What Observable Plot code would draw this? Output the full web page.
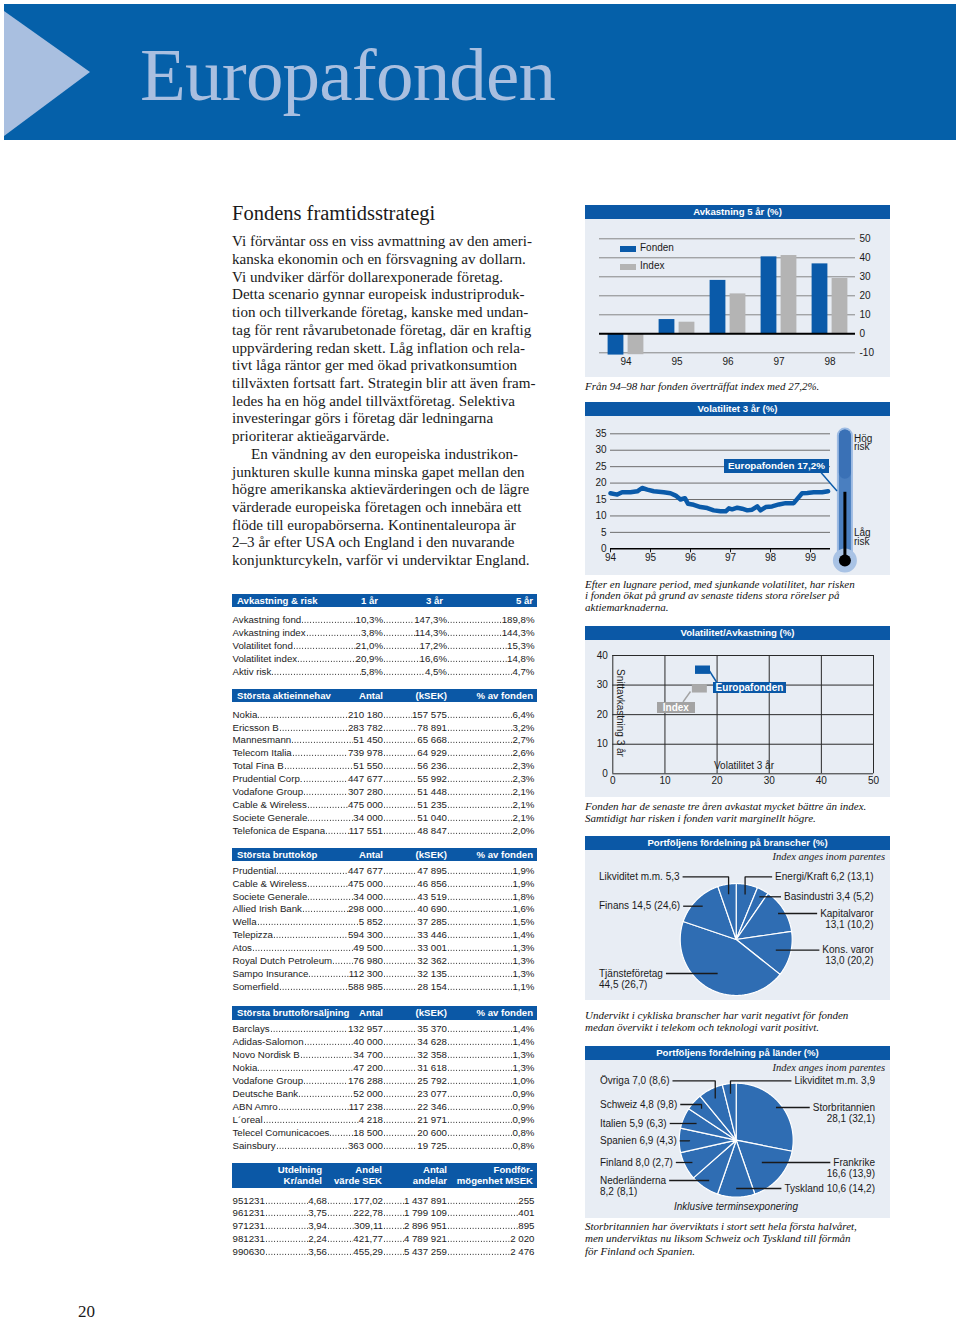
<!DOCTYPE html>
<html><head><meta charset="utf-8">
<script src="https://cdn.jsdelivr.net/npm/d3@7"></script>
<script src="https://cdn.jsdelivr.net/npm/@observablehq/plot@0.6"></script>
<style>
html,body{margin:0;padding:0;}
body{width:960px;height:1322px;position:relative;overflow:hidden;background:#fff;font-family:"Liberation Sans",Arial,sans-serif;color:#1a1a1a;}
.row{position:absolute;display:flex;white-space:nowrap;font-size:9.7px;height:13px;line-height:13px;color:#222;}
.seg{display:flex;flex:none;height:13px;}
.fill{flex:1 1 0;min-width:0;height:13px;
  background-image:radial-gradient(circle at 1.35px 9.3px, #3a3a3a 0.55px, rgba(0,0,0,0) 0.85px);
  background-size:2.75px 13px;background-repeat:repeat-x;}
.cap{position:absolute;font-family:"Liberation Serif",serif;font-style:italic;font-size:11px;line-height:12px;white-space:nowrap;color:#111;}
.bar{position:absolute;background:#0b58a6;color:#fff;font-weight:bold;font-size:9.6px;white-space:nowrap;}
</style></head><body>
<script>
// ================= DATA =================
const pageTitle = "Europafonden";
const sectionTitle = "Fondens framtidsstrategi";
const bodyLines = [
 "Vi förväntar oss en viss avmattning av den ameri-",
 "kanska ekonomin och en försvagning av dollarn.",
 "Vi undviker därför dollarexponerade företag.",
 "Detta scenario gynnar europeisk industriproduk-",
 "tion och tillverkande företag, kanske med undan-",
 "tag för rent råvarubetonade företag, där en kraftig",
 "uppvärdering redan skett. Låg inflation och rela-",
 "tivt låga räntor ger med ökad privatkonsumtion",
 "tillväxten fortsatt fart. Strategin blir att även fram-",
 "ledes ha en hög andel tillväxtföretag. Selektiva",
 "investeringar görs i företag där ledningarna",
 "prioriterar aktieägarvärde.",
 "En vändning av den europeiska industrikon-",
 "junkturen skulle kunna minska gapet mellan den",
 "högre amerikanska aktievärderingen och de lägre",
 "värderade europeiska företagen och innebära ett",
 "flöde till europabörserna. Kontinentaleuropa  är",
 "2–3 år efter USA och England i den nuvarande",
 "konjunkturcykeln, varför vi underviktar England."
];

const riskHead = ["Avkastning & risk", "1 år", "3 år", "5 år"];
const riskRows = [
 ["Avkastning fond", "10,3%", "147,3%", "189,8%"],
 ["Avkastning index ", "3,8%", "114,3%", "144,3%"],
 ["Volatilitet fond ", "21,0%", "17,2%", "15,3%"],
 ["Volatilitet index ", "20,9%", "16,6%", "14,8%"],
 ["Aktiv risk", "5,8%", "4,5%", "4,7%"]
];
const holdHead = ["Största aktieinnehav", "Antal", "(kSEK)", "% av fonden"];
const holdRows = [
 ["Nokia ", "210 180", "157 575", "6,4%"],
 ["Ericsson B ", "283 782", "78 891", "3,2%"],
 ["Mannesmann", "51 450", "65 668", "2,7%"],
 ["Telecom Italia", "739 978", "64 929", "2,6%"],
 ["Total Fina B", "51 550", "56 236", "2,3%"],
 ["Prudential Corp.", "447 677", "55 992", "2,3%"],
 ["Vodafone Group ", "307 280", "51 448", "2,1%"],
 ["Cable & Wireless", "475 000", "51 235", "2,1%"],
 ["Societe Generale", "34 000", "51 040", "2,1%"],
 ["Telefonica de Espana ", "117 551", "48 847", "2,0%"]
];
const buyHead = ["Största bruttoköp", "Antal", "(kSEK)", "% av fonden"];
const buyRows = [
 ["Prudential ", "447 677", "47 895", "1,9%"],
 ["Cable & Wireless", "475 000", "46 856", "1,9%"],
 ["Societe Generale", "34 000", "43 519", "1,8%"],
 ["Allied Irish Bank", "298 000", "40 690", "1,6%"],
 ["Wella", "5 852", "37 285", "1,5%"],
 ["Telepizza", "594 300", "33 446", "1,4%"],
 ["Atos ", "49 500", "33 001", "1,3%"],
 ["Royal Dutch Petroleum", "76 980", "32 362", "1,3%"],
 ["Sampo Insurance", "112 300", "32 135", "1,3%"],
 ["Somerfield ", "588 985", "28 154", "1,1%"]
];
const sellHead = ["Största bruttoförsäljning", "Antal", "(kSEK)", "% av fonden"];
const sellRows = [
 ["Barclays ", "132 957", "35 370", "1,4%"],
 ["Adidas-Salomon ", "40 000", "34 628", "1,4%"],
 ["Novo Nordisk B", "34 700", "32 358", "1,3%"],
 ["Nokia ", "47 200", "31 618", "1,3%"],
 ["Vodafone Group ", "176 288", "25 792", "1,0%"],
 ["Deutsche Bank", "52 000", "23 077", "0,9%"],
 ["ABN Amro ", "117 238", "22 346", "0,9%"],
 ["L´oreal ", "4 218", "21 971", "0,9%"],
 ["Telecel Comunicacoes", "18 500", "20 600", "0,8%"],
 ["Sainsbury", "363 000", "19 725", "0,8%"]
];
const fundHead = ["", "Utdelning<br>Kr/andel", "Andel<br>värde SEK", "Antal<br>andelar", "Fondför-<br>mögenhet MSEK"];
const fundRows = [
 ["951231 ", "4,68", "177,02", "1 437 891", "255"],
 ["961231 ", "3,75", "222,78", "1 799 109", "401"],
 ["971231 ", "3,94", "309,11", "2 896 951", "895"],
 ["981231 ", "2,24", "421,77", "4 789 921", "2 020"],
 ["990630 ", "3,56", "455,29", "5 437 259", "2 476"]
];

// Chart 1: Avkastning 5 år
const retTitle = "Avkastning 5 år (%)";
const retYears = ["94", "95", "96", "97", "98"];
const retFonden = [-11.2, 7.5, 28.1, 40.5, 36.8];
const retIndex = [-11.0, 6.1, 21.0, 41.2, 29.1];
const retTicks = [-10, 0, 10, 20, 30, 40, 50];
const retSeries = ["Fonden", "Index"];
const retCaption = ["Från 94–98 har fonden överträffat index med 27,2%."];

// Chart 2: Volatilitet 3 år
const volTitle = "Volatilitet 3 år (%)";
const volT = [94.00, 94.17, 94.29, 94.50, 94.67, 94.79, 94.92, 95.08, 95.33, 95.50, 95.63, 95.75, 95.86, 95.94,
  96.08, 96.25, 96.42, 96.58, 96.75, 96.88, 96.96, 97.04, 97.17, 97.29, 97.42, 97.54, 97.67, 97.75, 97.88,
  98.04, 98.21, 98.38, 98.58, 98.67, 98.79, 98.92, 99.08, 99.29, 99.44];
const volV = [16.9, 16.5, 17.2, 17.2, 17.5, 18.5, 18.0, 17.5, 17.2, 16.9, 16.2, 15.0, 15.4, 13.7,
  13.4, 12.7, 12.4, 11.7, 11.4, 11.4, 12.3, 12.0, 12.5, 12.2, 11.7, 11.9, 12.9, 11.7, 12.7,
  12.9, 13.5, 13.9, 13.9, 15.2, 16.9, 17.0, 17.2, 17.2, 17.5];
const volYTicks = [0, 5, 10, 15, 20, 25, 30, 35];
const volXTicks = [94, 95, 96, 97, 98, 99];
const fundVolNow = 17.2;
const volLabel = "Europafonden 17,2%";
const riskHigh = "Hög<br>risk", riskLow = "Låg<br>risk";
const volCaption = ["Efter en lugnare period, med sjunkande volatilitet, har risken",
  "i fonden ökat på grund av senaste tidens stora rörelser på", "aktiemarknaderna."];

// Chart 3: Volatilitet/Avkastning
const scTitle = "Volatilitet/Avkastning (%)";
const scNames = ["Index", "Europafonden"];
const scVol = [16.6, 17.2];
const scRet = [28.9, 35.2];
const scXTicks = [0, 10, 20, 30, 40, 50];
const scYTicks = [0, 10, 20, 30, 40];
const scYLabel = "Snittavkastning 3 år", scXLabel = "Volatilitet 3 år";
const scCaption = ["Fonden har de senaste tre åren avkastat mycket bättre än index.",
  "Samtidigt har risken i fonden varit marginellt högre."];

// Chart 4: branscher
const brTitle = "Portföljens fördelning på branscher (%)";
const brNames = ["Energi/Kraft", "Basindustri", "Kapitalvaror", "Kons. varor", "Tjänsteföretag", "Finans", "Likviditet m.m."];
const brFund = [6.2, 3.4, 13.1, 13.0, 44.5, 14.5, 5.3];
const brIndex = [13.1, 5.2, 10.2, 20.2, 26.7, 24.6, null];
const brCaption = ["Undervikt i cykliska branscher har varit negativt för fonden",
  "medan övervikt i telekom och teknologi varit positivt."];

// Chart 5: länder
const laTitle = "Portföljens fördelning på länder (%)";
const laNames = ["Storbritannien", "Frankrike", "Tyskland", "Nederländerna", "Finland", "Spanien", "Italien", "Schweiz", "Övriga", "Likviditet m.m."];
const laFund = [28.1, 16.6, 10.6, 8.2, 8.0, 6.9, 5.9, 4.8, 7.0, 3.9];
const laIndex = [32.1, 13.9, 14.2, 8.1, 2.7, 4.3, 6.3, 9.8, 8.6, null];
const laNote = "Inklusive terminsexponering";
const laCaption = ["Storbritannien har överviktats i stort sett hela första halvåret,",
  "men underviktas nu liksom Schweiz och Tyskland till förmån", "för Finland och Spanien."];
const indexNote = "Index anges inom parentes";
const pageNumber = "20";

// ================= LAYOUT / STYLE =================
const BLUE = "#0b58a6", BAR_BLUE = "#0a5aa9", GRAY = "#b4b4b4", PANEL = "#e8edf4", PIE_BLUE = "#2f6db3";
const body = document.body;
function div(style, html, cls) {
  const d = document.createElement("div");
  if (cls) d.className = cls;
  d.style.position = "absolute";
  Object.assign(d.style, style);
  if (html != null) d.innerHTML = html;
  body.appendChild(d);
  return d;
}
const px = v => v + "px";

// ---- page header ----
div({left: "4px", top: "4px", width: "952px", height: "136px", background: "#0560a9"});
div({left: "4px", top: "4px", width: "90px", height: "136px", background: "#a9bfe0",
  clipPath: "polygon(0px 7px, 86px 68px, 0px 132px)"});
div({left: "140px", top: "37px", fontFamily: "'Liberation Serif',serif", fontSize: "75px", lineHeight: "75px",
  color: "#a9bfe0", letterSpacing: "-0.8px", whiteSpace: "nowrap"}, pageTitle);
div({left: "78px", top: "1302px", fontFamily: "'Liberation Serif',serif", fontSize: "17px", lineHeight: "20px"}, pageNumber);

// ---- text column ----
div({left: "232px", top: "202.8px", fontFamily: "'Liberation Serif',serif", fontSize: "20.5px", lineHeight: "20.5px", whiteSpace: "nowrap"}, sectionTitle);
const tb = div({left: "232px", top: "233.2px", width: "310px", fontFamily: "'Liberation Serif',serif", fontSize: "15.1px", lineHeight: "17.72px", whiteSpace: "nowrap"});
bodyLines.forEach((l, i) => {
  const d = document.createElement("div");
  d.textContent = l;
  if (i === 12) d.style.paddingLeft = "19px";
  tb.appendChild(d);
});

// ---- tables ----
function table(head, rows, cfg) {
  const bar = div({left: "232px", top: px(cfg.headTop), width: "305px", height: px(cfg.headH)}, null, "bar");
  const lh = cfg.twoLine ? 11.6 : cfg.headH;
  head.forEach((h, i) => {
    if (!h) return;
    const s = document.createElement("div");
    s.style.position = "absolute";
    s.style.lineHeight = px(lh);
    s.style.top = px(cfg.twoLine ? (cfg.headH - 2 * lh) / 2 : 0);
    if (i === 0) s.style.left = "5px";
    else { s.style.right = px(537 - cfg.headRights[i - 1]); s.style.textAlign = "right"; }
    s.innerHTML = h;
    bar.appendChild(s);
  });
  const L = 232.5;
  rows.forEach((r, k) => {
    const top = cfg.row0 + k * cfg.step - 6.4;
    const rd = div({left: px(L), top: px(top), width: px(534.5 - L)}, null, "row");
    let prev = L;
    cfg.cols.forEach((cr, j) => {
      const seg = document.createElement("div");
      seg.className = "seg";
      seg.style.width = px(cr - prev);
      if (j === 0) { const lab = document.createElement("span"); lab.textContent = r[0]; seg.appendChild(lab); }
      const f = document.createElement("span"); f.className = "fill"; seg.appendChild(f);
      const v = document.createElement("span"); v.textContent = r[j + 1]; seg.appendChild(v);
      rd.appendChild(seg);
      prev = cr;
    });
  });
}
table(riskHead, riskRows, {headTop: 593.5, headH: 13.5, headRights: [378, 443, 533], row0: 619, step: 13, cols: [383, 447, 534.5]});
table(holdHead, holdRows, {headTop: 688.5, headH: 13.5, headRights: [383, 447, 533], row0: 714, step: 12.9, cols: [383, 447, 534.5]});
table(buyHead, buyRows, {headTop: 847.5, headH: 13.5, headRights: [383, 447, 533], row0: 870, step: 12.95, cols: [383, 447, 534.5]});
table(sellHead, sellRows, {headTop: 1006, headH: 13.5, headRights: [383, 447, 533], row0: 1028.3, step: 12.97, cols: [383, 447, 534.5]});
table(fundHead, fundRows, {headTop: 1162.5, headH: 25.5, twoLine: true, headRights: [322, 382, 447, 533], row0: 1200, step: 12.75, cols: [327, 383, 447, 534.5]});

// ---- chart panels ----
function panelHead(top, title) {
  div({left: "585px", top: px(top), width: "305px", height: "14px", lineHeight: "14px", textAlign: "center"}, title, "bar");
}
function place(svg, top) {
  const d = div({left: "585px", top: px(top), width: "305px"});
  d.appendChild(svg);
  svg.style.display = "block";
}
function caption(lines, firstCenter, step) {
  lines.forEach((l, i) => div({left: "585px", top: px(firstCenter + i * step - 6.5)}, l, "cap"));
}
const plotStyle = {background: PANEL, fontFamily: "Liberation Sans", fontSize: "10px", color: "#1a1a1a", overflow: "visible"};

// Chart 1
panelHead(204.5, retTitle);
const retRowsF = retYears.map((y, i) => ({year: y, v: retFonden[i]}));
const retRowsI = retYears.map((y, i) => ({year: y, v: retIndex[i]}));
place(Plot.plot({
  width: 305, height: 158, marginTop: 19.3, marginBottom: 24.7, marginLeft: 14, marginRight: 35,
  style: plotStyle,
  x: {type: "band", domain: retYears, padding: 0, tickSize: 0, tickPadding: 5, label: null},
  y: {domain: [-10, 50], ticks: retTicks, axis: "right", tickSize: 0, tickPadding: 4, tickFormat: d => String(d), label: null},
  marks: [
    Plot.ruleY(retTicks.filter(d => d !== 0), {stroke: "#858585", strokeWidth: 1}),
    Plot.barY(retRowsF, {x: "year", y: "v", fill: BAR_BLUE, insetLeft: 7.6, insetRight: 27.6}),
    Plot.barY(retRowsI, {x: "year", y: "v", fill: GRAY, insetLeft: 27.6, insetRight: 7.6}),
    Plot.ruleY([0], {stroke: "#000", strokeWidth: 2})
  ]
}), 218.5);
// legend
[BAR_BLUE, GRAY].forEach((c, i) => {
  div({left: "620px", top: px(245.5 + i * 18.5), width: "16px", height: "6px", background: c});
  div({left: "640px", top: px(242.5 + i * 18.5), fontSize: "10px", lineHeight: "10px"}, retSeries[i]);
});
caption(retCaption, 386, 12);

// Chart 2
panelHead(402, volTitle);
const volRows = volT.map((t, i) => ({t, v: volV[i]}));
const THERMO_X = 99.86, BULB_Y = -3.56, TUBE_TOP = 34.3;
place(Plot.plot({
  width: 305, height: 159, marginTop: 17.3, marginBottom: 26.7, marginLeft: 25, marginRight: 20,
  style: plotStyle,
  x: {domain: [94, 100.5], ticks: volXTicks, tickSize: 4, tickPadding: 1, tickFormat: d => String(d), label: null},
  y: {domain: [0, 35], ticks: volYTicks, tickSize: 0, tickPadding: 4, label: null},
  marks: [
    Plot.ruleY(volYTicks.filter(d => d > 0), {x1: 94, x2: 99.5, stroke: "#6e6e6e", strokeWidth: 1}),
    Plot.ruleY([0], {x1: 94, x2: 99.5, stroke: "#000", strokeWidth: 1.5}),
    Plot.line(volRows, {x: "t", y: "v", stroke: BAR_BLUE, strokeWidth: 4.5}),
    Plot.ruleX([THERMO_X], {y1: BULB_Y, y2: TUBE_TOP, stroke: "#9dbbe3", strokeWidth: 16, strokeLinecap: "round"}),
    Plot.ruleX([THERMO_X], {y1: BULB_Y, y2: TUBE_TOP, stroke: "#4a7fc0", strokeWidth: 12, strokeLinecap: "round"}),
    Plot.ruleX([THERMO_X], {y1: 23, y2: TUBE_TOP, stroke: "#3a71b6", strokeWidth: 12, strokeLinecap: "round"}),
    Plot.dot([THERMO_X], {x: d => d, y: BULB_Y, r: 12, fill: "#a9c3e5"}),
    Plot.dot([THERMO_X], {x: d => d, y: BULB_Y, r: 6, fill: "#000"}),
    Plot.ruleX([fundVolNow], {x: THERMO_X, y1: BULB_Y, y2: d => d, stroke: "#000", strokeWidth: 3})
  ]
}), 416);
div({left: "724px", top: "459px", width: "105px", height: "13.5px", lineHeight: "13.5px", textAlign: "center", fontSize: "9.8px"}, volLabel, "bar");
div({left: "854px", top: "434.5px", fontSize: "10px", lineHeight: "8.5px"}, riskHigh);
div({left: "854px", top: "529px", fontSize: "10px", lineHeight: "8.5px"}, riskLow);
caption(volCaption, 584, 11.7);

// Chart 3
panelHead(626, scTitle);
const rectSym = {draw(ctx) { ctx.rect(-7.5, -4.2, 15, 8.4); }};
const scRows = scNames.map((n, i) => ({name: n, vol: scVol[i], ret: scRet[i]}));
place(Plot.plot({
  width: 305, height: 157, marginTop: 15, marginBottom: 23.7, marginLeft: 27.3, marginRight: 17,
  style: plotStyle,
  x: {domain: [0, 50], ticks: scXTicks, tickSize: 0, tickPadding: 3, label: null},
  y: {domain: [0, 40], ticks: scYTicks, tickSize: 0, tickPadding: 5, label: null},
  marks: [
    Plot.ruleX(scXTicks, {stroke: "#2a2a2a", strokeWidth: 1}),
    Plot.ruleY(scYTicks, {stroke: "#2a2a2a", strokeWidth: 1}),
    Plot.dot(scRows.filter(d => d.name === "Index"), {x: "vol", y: "ret", symbol: rectSym, fill: "#a9a9a9", stroke: "none"}),
    Plot.dot(scRows.filter(d => d.name !== "Index"), {x: "vol", y: "ret", symbol: rectSym, fill: BAR_BLUE, stroke: "none"})
  ]
}), 640);
div({left: "713px", top: "681.7px", width: "73px", height: "11.8px", lineHeight: "11.8px", textAlign: "center", fontSize: "10px"}, scNames[1], "bar");
div({left: "657px", top: "701.7px", width: "37.7px", height: "11.8px", lineHeight: "11.8px", textAlign: "center", fontSize: "10px", background: "#a3a3a3"}, scNames[0], "bar");
div({left: "620px", top: "713px", fontSize: "10px", lineHeight: "10px", whiteSpace: "nowrap", transform: "translate(-50%,-50%) rotate(90deg)"}, scYLabel);
div({left: "744px", top: "765.7px", fontSize: "10px", lineHeight: "10px", whiteSpace: "nowrap", transform: "translate(-50%,-50%)"}, scXLabel);
caption(scCaption, 806.5, 12);

// overlay leader lines for charts 2/3
const ov = d3.create("svg").attr("width", 960).attr("height", 1322)
  .style("position", "absolute").style("left", "0px").style("top", "0px").style("pointer-events", "none");
[[821, 472.5, 837, 491, BAR_BLUE], [709.5, 671, 716.5, 682, BAR_BLUE], [690.5, 691.5, 683, 702, "#a3a3a3"]]
  .forEach(([x1, y1, x2, y2, c]) => ov.append("line").attr("x1", x1).attr("y1", y1).attr("x2", x2).attr("y2", y2)
    .attr("stroke", c).attr("stroke-width", 1.4));

// ---- pies ----
const ctx = document.createElement("canvas").getContext("2d");
ctx.font = "10px 'Liberation Sans'";
const tw = s => ctx.measureText(s).width;
const fmt = v => v.toFixed(1).replace(".", ",");

function pie(names, fund, idx, lay, cfg) {
  const {top, height, cx, cy, r, leftX, rightX} = cfg;
  const arcs = d3.pie().sort(null).value(d => d)(fund);
  const poly = [];
  arcs.forEach((a, i) => {
    const n = Math.max(2, Math.ceil((a.endAngle - a.startAngle) / (Math.PI / 180)));
    poly.push({s: i, x: cx, y: cy});
    for (let k = 0; k <= n; k++) {
      const t = a.startAngle + (a.endAngle - a.startAngle) * k / n;
      poly.push({s: i, x: cx + r * Math.sin(t), y: cy - r * Math.cos(t)});
    }
    poly.push({s: i, x: cx, y: cy});
  });
  const texts = [], leaders = [];
  arcs.forEach((a, i) => {
    const L = lay[i];
    const vals = fmt(fund[i]) + (idx[i] != null ? " (" + fmt(idx[i]) + ")" : "");
    const lines = L.wrap ? [names[i], vals] : [names[i] + " " + vals];
    lines.forEach((t, j) => texts.push({side: L.side, x: L.side === "L" ? leftX : rightX, y: L.y + j * 11, t}));
    const w = tw(lines[0]);
    const sx = L.side === "L" ? leftX + w + 3 : rightX - w - 3;
    const mid = (a.startAngle + a.endAngle) / 2, s = Math.sin(mid), c = Math.cos(mid);
    const rr = Math.abs(c) > 1e-3 ? (cy - L.y) / c : -1;
    if (rr > 0.25 * r && rr < 0.93 * r) {
      leaders.push({id: i, x: sx, y: L.y}, {id: i, x: cx + rr * s, y: L.y});
    } else {
      const ax = cx + 0.82 * r * s, ay = cy - 0.82 * r * c;
      leaders.push({id: i, x: sx, y: L.y}, {id: i, x: ax, y: L.y}, {id: i, x: ax, y: ay});
    }
  });
  return Plot.plot({
    width: 305, height, margin: 0, style: plotStyle,
    x: {domain: [585, 890], range: [0, 305], axis: null},
    y: {domain: [top, top + height], range: [0, height], axis: null},
    marks: [
      Plot.line(poly, {x: "x", y: "y", z: "s", fill: PIE_BLUE, stroke: "#fff", strokeWidth: 1.2}),
      Plot.line(leaders, {x: "x", y: "y", z: "id", stroke: "#1a1a1a", strokeWidth: 1.3, strokeLinecap: "butt", strokeLinejoin: "miter"}),
      Plot.text(texts.filter(d => d.side === "L"), {x: "x", y: "y", text: "t", textAnchor: "start", fill: "#1a1a1a", fontSize: 10}),
      Plot.text(texts.filter(d => d.side === "R"), {x: "x", y: "y", text: "t", textAnchor: "end", fill: "#1a1a1a", fontSize: 10})
    ]
  });
}

panelHead(836, brTitle);
const brLayout = [
  {side: "R", y: 876.3}, {side: "R", y: 896.3}, {side: "R", y: 913, wrap: true}, {side: "R", y: 949.7, wrap: true},
  {side: "L", y: 973, wrap: true}, {side: "L", y: 905.7}, {side: "L", y: 876.3}
];
place(pie(brNames, brFund, brIndex, brLayout, {top: 850, height: 150, cx: 735.7, cy: 939, r: 56, leftX: 598.5, rightX: 873}), 850);
div({right: px(960 - 885), top: "851px", fontFamily: "'Liberation Serif',serif", fontStyle: "italic", fontSize: "10.5px", lineHeight: "12px", whiteSpace: "nowrap"}, indexNote);
caption(brCaption, 1015, 12.3);

panelHead(1046, laTitle);
const laLayout = [
  {side: "R", y: 1107, wrap: true}, {side: "R", y: 1162, wrap: true}, {side: "R", y: 1188},
  {side: "L", y: 1180, wrap: true}, {side: "L", y: 1162}, {side: "L", y: 1140.3}, {side: "L", y: 1123},
  {side: "L", y: 1104}, {side: "L", y: 1080.3}, {side: "R", y: 1080.3}
];
place(pie(laNames, laFund, laIndex, laLayout, {top: 1060, height: 158, cx: 735.7, cy: 1139.7, r: 57, leftX: 599.5, rightX: 874.5}), 1060);
div({right: px(960 - 885), top: "1062px", fontFamily: "'Liberation Serif',serif", fontStyle: "italic", fontSize: "10.5px", lineHeight: "12px", whiteSpace: "nowrap"}, indexNote);
div({left: "736px", top: "1207px", fontSize: "10px", fontStyle: "italic", lineHeight: "10px", whiteSpace: "nowrap", transform: "translate(-50%,-50%)"}, laNote);
caption(laCaption, 1226.5, 12.3);

body.appendChild(ov.node());
</script></body></html>
